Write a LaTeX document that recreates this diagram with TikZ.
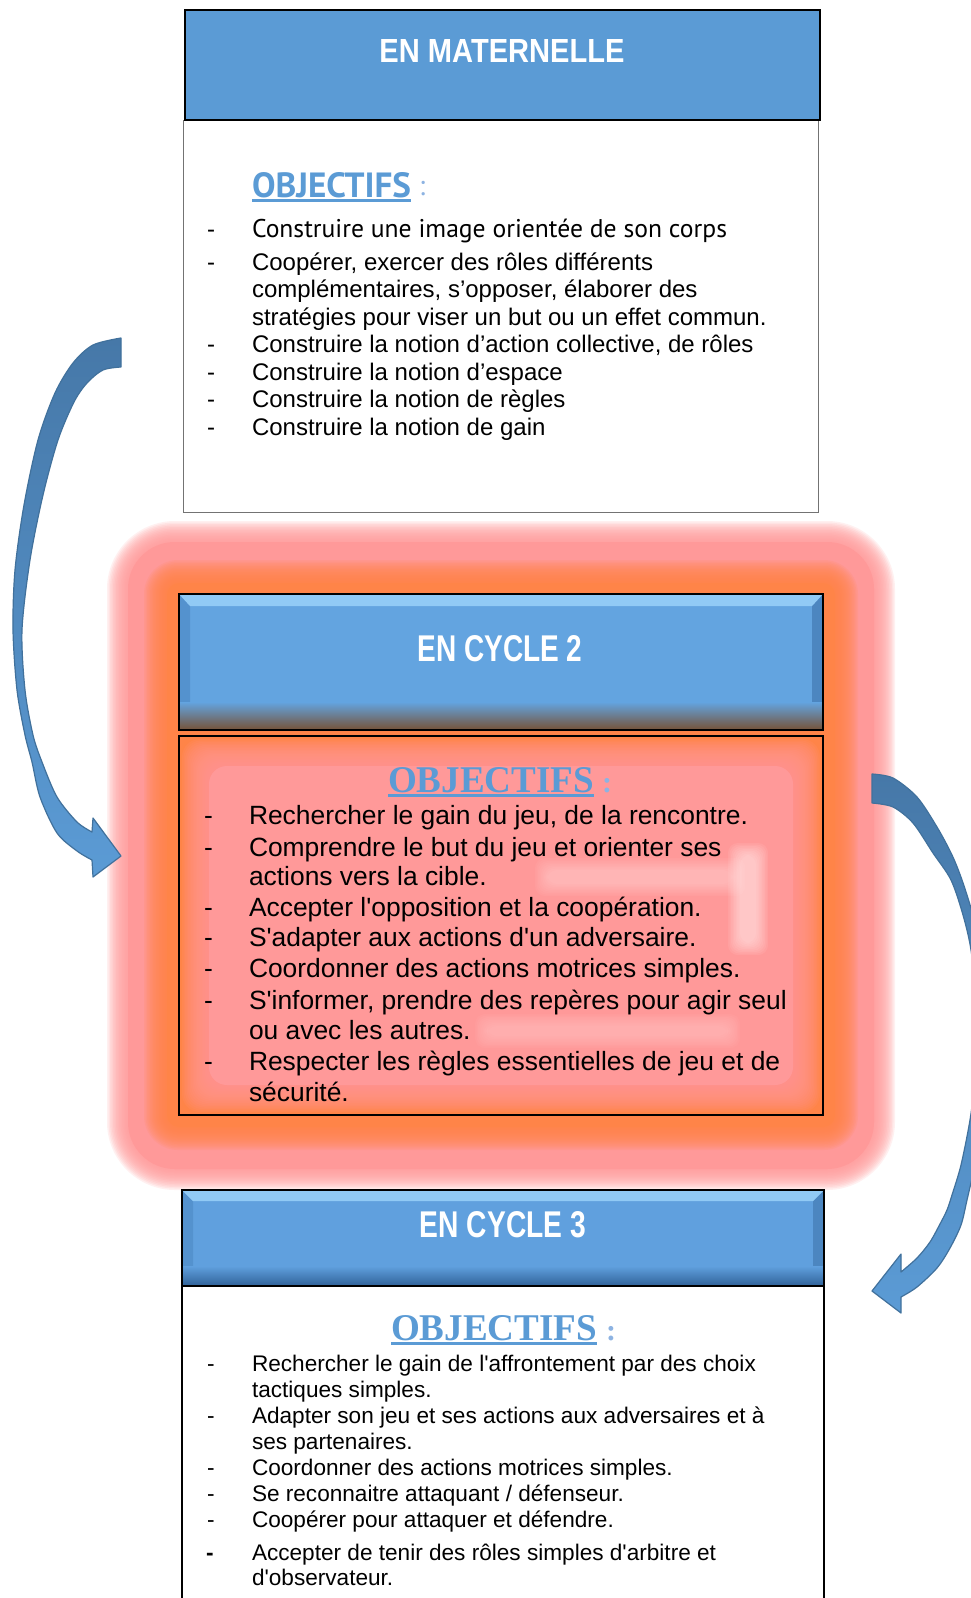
\documentclass[tikz,border=0pt]{standalone}
\usepackage{fontspec}
\usepackage{graphicx}
\newfontfamily\arial[Ligatures=TeXOff]{Liberation Sans}
\newfontfamily\tnr[Ligatures=TeXOff]{Liberation Serif}
\newfontfamily\ptsans[Ligatures=TeXOff]{PT Sans}
\definecolor{hdrblue}{RGB}{91,155,213}
\definecolor{hdrblueB}{RGB}{99,164,224}
\definecolor{hdrblueC}{RGB}{96,160,222}
\definecolor{bevlight}{RGB}{145,202,245}
\definecolor{bevside}{RGB}{84,146,206}
\definecolor{bevsideR}{RGB}{76,134,192}
\definecolor{bevbrown}{RGB}{118,82,55}
\definecolor{bevdark}{RGB}{48,98,152}
\definecolor{objblue}{RGB}{91,155,213}
\definecolor{colblue}{RGB}{141,179,226}
\definecolor{glowpink}{RGB}{255,153,153}
\definecolor{gloworange}{RGB}{255,132,72}
\definecolor{arrowdark}{RGB}{70,120,168}
\definecolor{arrowlight}{RGB}{91,155,213}
\definecolor{arrowline}{RGB}{65,113,156}
\tikzset{
  every node/.style={inner sep=0pt, outer sep=0pt},
  txtA/.style={anchor=mid west, font=\arial\fontsize{24}{28}\selectfont},
  txtB/.style={anchor=mid west, font=\arial\fontsize{26.4}{30}\selectfont},
  txtC/.style={anchor=mid west, font=\arial\fontsize{22.6}{26}\selectfont},
  hdrtxt/.style={anchor=center, text=white},
  objtxt/.style={anchor=base west, text=objblue},
  coltxt/.style={anchor=base west, text=colblue},
  blockarrow/.style={draw=arrowline, line width=1.2pt, line join=round, top color=arrowdark, bottom color=arrowlight},
}
\begin{document}
\begin{tikzpicture}[x=1pt, y=-1pt]
\useasboundingbox (0,0) rectangle (971,1598);
\fill[white] (0,0) rectangle (971,1598);

% ---------- glow around cycle 2 ----------
\foreach \i in {0,1.5,...,21} {
  \fill[glowpink, opacity=0.14, rounded corners=68-\i] (107+\i,521+\i) rectangle (895-\i,1190-\i);
}
\fill[glowpink, rounded corners=47] (128,542) rectangle (874,1169);
\foreach \i in {0,1.5,...,22.5} {
  \fill[gloworange, opacity=0.13, rounded corners=34-\i] (144+\i,560+\i) rectangle (858-\i,1150-\i);
}
\fill[gloworange, rounded corners=12] (167,583) rectangle (835,1127);

% ---------- box 1 : maternelle ----------
\draw[draw=black!55, line width=1pt, fill=white] (183,120) rectangle (818,512);
\draw[line width=2.4pt, fill=hdrblue] (185,10) rectangle (820,120);
\node[hdrtxt] (t1) at (502,51) {\resizebox{245pt}{23pt}{\arial\bfseries EN MATERNELLE}};
\node[objtxt] (o1) at (252,197) {\resizebox{159pt}{25pt}{\ptsans\bfseries OBJECTIFS}};
\draw[objblue, line width=3pt] ([yshift=-3.5pt]o1.south west) -- ([yshift=-3.5pt]o1.south east);
\node[coltxt, font=\ptsans\fontsize{28}{28}\selectfont] (c1) at (419,195) {:};

\node[txtA] (ad1) at (207,235) {-};
\node[txtA, font=\ptsans\fontsize{24}{28}\selectfont] (a1) at (252,235) {\resizebox{475pt}{!}{\ptsans\fontsize{26}{28}\selectfont Construire une image orientée de son corps}};
\node[txtA] (ad2) at (207,268) {-};
\node[txtA] (a2) at (252,268) {Coopérer, exercer des rôles différents};
\node[txtA] (a2b) at (252,295) {complémentaires, s’opposer, élaborer des};
\node[txtA] (a2c) at (252,323) {stratégies pour viser un but ou un effet commun.};
\node[txtA] (ad3) at (207,350) {-};
\node[txtA] (a3) at (252,350) {Construire la notion d’action collective, de rôles};
\node[txtA] (ad4) at (207,378) {-};
\node[txtA] (a4) at (252,378) {Construire la notion d’espace};
\node[txtA] (ad5) at (207,405) {-};
\node[txtA] (a5) at (252,405) {Construire la notion de règles};
\node[txtA] (ad6) at (207,433) {-};
\node[txtA] (a6) at (252,433) {Construire la notion de gain};

% ---------- box 2 : cycle 2 ----------
\fill[hdrblueB] (179,594) rectangle (823,730);
\fill[bevside] (179,594) -- (190,606) -- (190,719) -- (179,730) -- cycle;
\fill[bevsideR] (823,594) -- (812,606) -- (812,719) -- (823,730) -- cycle;
\fill[bevlight] (179,594) -- (823,594) -- (812,606) -- (190,606) -- cycle;
\shade[top color=hdrblueB, bottom color=bevbrown] (179,702) rectangle (823,730);
\draw[line width=2pt] (179,594) rectangle (823,730);
\node[hdrtxt] (t2) at (500,649) {\resizebox{165pt}{26pt}{\arial\bfseries EN CYCLE 2}};
\fill[gloworange] (179,736) rectangle (823,1115);
\foreach \i in {3,4.5,...,30} {
  \fill[glowpink, opacity=0.1, rounded corners=18] (179+\i,736+\i) rectangle (823-\i,1115-\i);
}
\fill[glowpink, rounded corners=18] (209,766) rectangle (793,1085);
\foreach \i in {0,1.5,...,12} {
  \fill[white, opacity=0.07, rounded corners=10] (728+\i,843+\i) rectangle (768-\i,955-\i);
  \fill[white, opacity=0.04, rounded corners=10] (535+\i,858+\i) rectangle (745-\i,896-\i);
  \fill[white, opacity=0.03, rounded corners=10] (475+\i,1014+\i) rectangle (740-\i,1048-\i);
}
\draw[line width=2pt] (179,736) rectangle (823,1115);

\node[objtxt] (o2) at (388,792) {\resizebox{206pt}{25pt}{\tnr\bfseries OBJECTIFS}};
\draw[objblue, line width=3pt] ([yshift=-3pt]o2.south west) -- ([yshift=-3pt]o2.south east);
\node[coltxt, font=\tnr\bfseries\fontsize{30}{30}\selectfont] (c2) at (602,792) {:};

\node[txtB] (bd1) at (204,822) {-};
\node[txtB] (b1) at (249,822) {Rechercher le gain du jeu, de la rencontre.};
\node[txtB] (bd2) at (204,854) {-};
\node[txtB] (b2) at (249,854) {Comprendre le but du jeu et orienter ses};
\node[txtB] (b2b) at (249,883) {actions vers la cible.};
\node[txtB] (bd3) at (204,914) {-};
\node[txtB] (b3) at (249,914) {Accepter l'opposition et la coopération.};
\node[txtB] (bd4) at (204,944) {-};
\node[txtB] (b4) at (249,944) {S'adapter aux actions d'un adversaire.};
\node[txtB] (bd5) at (204,975) {-};
\node[txtB] (b5) at (249,975) {Coordonner des actions motrices simples.};
\node[txtB] (bd6) at (204,1007) {-};
\node[txtB] (b6) at (249,1007) {S'informer, prendre des repères pour agir seul};
\node[txtB] (b6b) at (249,1037) {ou avec les autres.};
\node[txtB] (bd7) at (204,1068) {-};
\node[txtB] (b7) at (249,1068) {Respecter les règles essentielles de jeu et de};
\node[txtB] (b7b) at (249,1099) {sécurité.};

% ---------- box 3 : cycle 3 ----------
\draw[line width=2.4pt, fill=white] (182,1286) rectangle (824,1612);
\fill[hdrblueC] (182,1190) rectangle (824,1286);
\fill[bevside] (182,1190) -- (193,1201) -- (193,1275) -- (182,1286) -- cycle;
\fill[bevsideR] (824,1190) -- (813,1201) -- (813,1275) -- (824,1286) -- cycle;
\fill[bevlight] (182,1190) -- (824,1190) -- (813,1201) -- (193,1201) -- cycle;
\shade[top color=hdrblueC, bottom color=bevdark] (182,1266) rectangle (824,1286);
\draw[line width=2.4pt] (182,1190) rectangle (824,1286);
\node[hdrtxt] (t3) at (503,1225) {\resizebox{166pt}{26pt}{\arial\bfseries EN CYCLE 3}};

\node[objtxt] (o3) at (391,1340) {\resizebox{206pt}{25pt}{\tnr\bfseries OBJECTIFS}};
\draw[objblue, line width=3pt] ([yshift=-3.5pt]o3.south west) -- ([yshift=-3.5pt]o3.south east);
\node[coltxt, font=\tnr\bfseries\fontsize{30}{30}\selectfont] (c3) at (606,1340) {:};

\node[txtC] (cd1) at (207,1369) {-};
\node[txtC] (k1) at (252,1369) {Rechercher le gain de l'affrontement par des choix};
\node[txtC] (k1b) at (252,1395) {tactiques simples.};
\node[txtC] (cd2) at (207,1421) {-};
\node[txtC] (k2) at (252,1421) {Adapter son jeu et ses actions aux adversaires et à};
\node[txtC] (k2b) at (252,1447) {ses partenaires.};
\node[txtC] (cd3) at (207,1473) {-};
\node[txtC] (k3) at (252,1473) {Coordonner des actions motrices simples.};
\node[txtC] (cd4) at (207,1499) {-};
\node[txtC] (k4) at (252,1499) {Se reconnaitre attaquant / défenseur.};
\node[txtC] (cd5) at (207,1525) {-};
\node[txtC] (k5) at (252,1525) {Coopérer pour attaquer et défendre.};
\node[txtC, font=\arial\bfseries\fontsize{22.6}{26}\selectfont] (cd6) at (206,1558) {-};
\node[txtC] (k6) at (252,1558) {Accepter de tenir des rôles simples d'arbitre et};
\node[txtC] (k6b) at (252,1583) {d'observateur.};

% ---------- curved block arrows ----------
\path[blockarrow]
  plot[smooth] coordinates {(121,338) (93,345) (73,363) (55,393) (38,440) (24,505) (15,570) (13,630) (17,690) (25,735) (32,762) (40,797) (57,833) (77,851) (92,860)}
  -- (93,877) -- (121,856) -- (93,818)
  -- plot[smooth] coordinates {(92,832) (77,822) (57,797) (42,762) (33,735) (25,690) (22,630) (30,560) (43,495) (58,440) (74,402) (87,383) (103,370) (121,367)}
  -- cycle;

\path[blockarrow]
  plot[smooth] coordinates {(872,774) (893,778) (917,797) (937,827) (952,855) (962,880) (973,915) (981,950) (987,1000) (989,1040) (988,1080) (983,1120) (976,1160) (967,1200) (961,1225) (950,1248) (937,1268) (917,1287) (901,1297)}
  -- (901,1313) -- (872,1291) -- (901,1254)
  -- plot[smooth] coordinates {(901,1272) (917,1258) (930,1242) (940,1224) (947,1210) (952,1195) (961,1165) (970,1120) (975,1080) (977,1040) (976,1000) (971,950) (963,915) (951,880) (933,853) (913,823) (893,807) (872,803)}
  -- cycle;
\end{tikzpicture}
\end{document}
